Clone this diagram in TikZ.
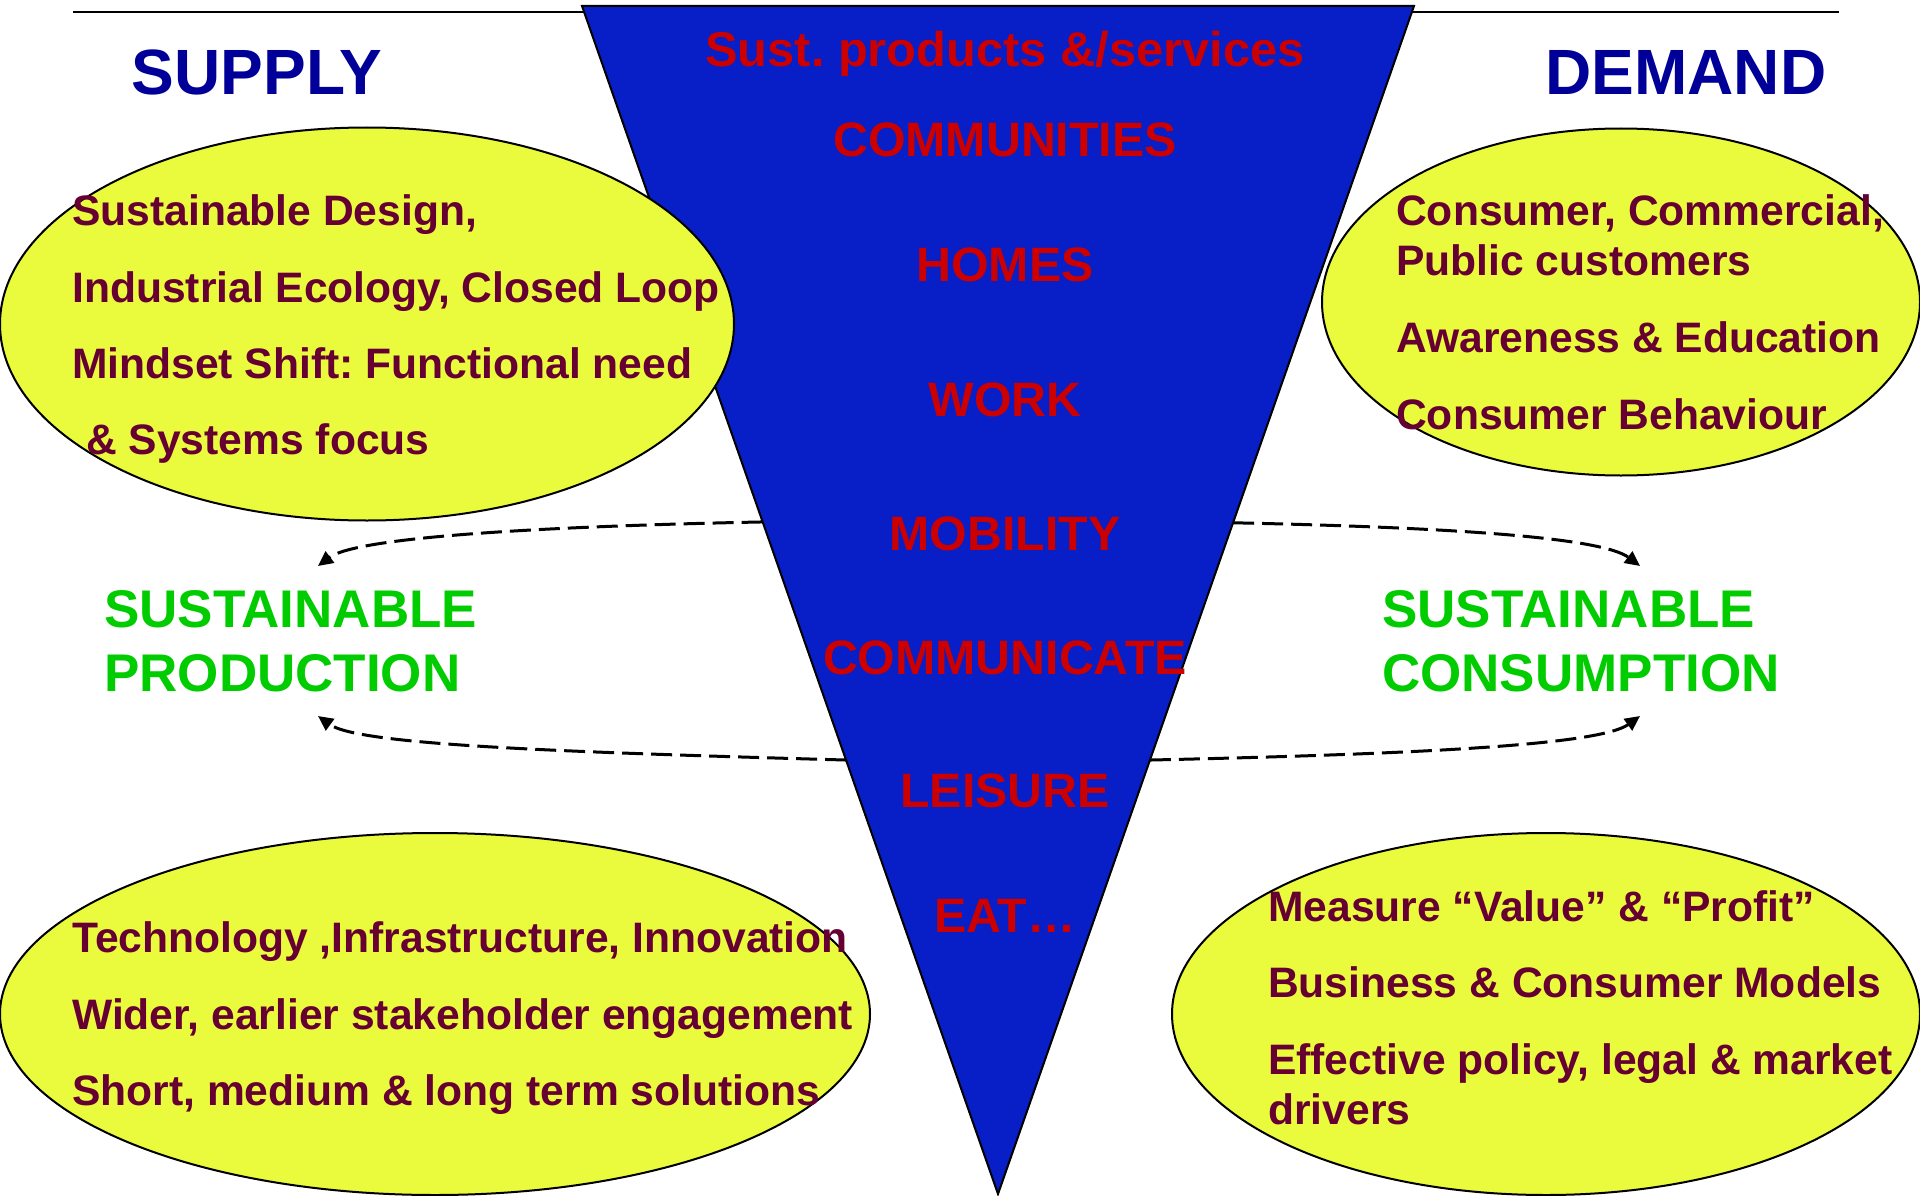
\documentclass[tikz,border=0pt]{standalone}
\usepackage{fontspec}
\setmainfont{Liberation Sans}
\usetikzlibrary{shapes.geometric,arrows.meta,calc}
\definecolor{triblue}{RGB}{8,30,198}
\definecolor{tred}{RGB}{204,0,0}
\definecolor{maroonx}{RGB}{102,0,51}
\definecolor{limey}{RGB}{234,250,60}
\definecolor{navyb}{RGB}{0,0,153}
\definecolor{tgreen}{RGB}{0,204,0}
\frenchspacing
\begin{document}
\begin{tikzpicture}[x=1pt,y=-1pt,
  bubble/.style={ellipse, draw=black, line width=2pt, fill=limey, inner sep=0pt},
  item/.style={anchor=base west, inner sep=0pt, text=maroonx, font=\bfseries\fontsize{42.6}{50}\selectfont},
  cat/.style={anchor=base, inner sep=0pt, text=tred, font=\bfseries\fontsize{48.3}{56}\selectfont},
  head/.style={anchor=base, inner sep=0pt, text=navyb, font=\bfseries\fontsize{64}{70}\selectfont},
  goal/.style={anchor=base west, inner sep=0pt, text=tgreen, font=\bfseries\fontsize{53}{60}\selectfont},
  flow/.style={dash pattern=on 21pt off 8pt, line width=3pt, -{Triangle[length=15pt,width=14pt]}},
]
\useasboundingbox (0,0) rectangle (1920,1196);

% top rule
\coordinate (ruleL) at (73,12);
\coordinate (ruleR) at (1839,12);
\draw[line width=2pt] (ruleL) -- (ruleR);

% triangle corners
\coordinate (tl) at (582,6);
\coordinate (tr) at (1414,6);
\coordinate (tb) at (998,1194);

% connector end points
\coordinate (pl1) at ($(tl)!0.4343!(tb)$);
\coordinate (pl2) at ($(tl)!0.6347!(tb)$);
\coordinate (pr1) at ($(tr)!0.435!(tb)$);
\coordinate (pr2) at ($(tr)!0.6347!(tb)$);
\coordinate (tipL1) at (318,566);
\coordinate (tipL2) at (318,716);
\coordinate (tipR1) at (1640,566);
\coordinate (tipR2) at (1640,716);

\draw[flow] (pl1) .. controls (560,526) and (358,536) .. (tipL1);
\draw[flow] (pl2) .. controls (560,752) and (358,745) .. (tipL2);
\draw[flow] (pr1) .. controls (1430,527) and (1600,536) .. (tipR1);
\draw[flow] (pr2) .. controls (1420,754) and (1600,745) .. (tipR2);

% triangle
\draw[fill=triblue, line width=2pt] (tl) -- (tr) -- (tb) -- cycle;

\node[cat, font=\bfseries\fontsize{48.8}{56}\selectfont] (c0) at (1005,67) {Sust. products \&/services};
\node[cat] (c1) at (1005,157) {COMMUNITIES};
\node[cat] (c2) at (1005,281) {HOMES};
\node[cat] (c3) at (1005,416) {WORK};
\node[cat] (c4) at (1005,550) {MOBILITY};
\node[cat] (c5) at (1005,674) {COMMUNICATE};
\node[cat] (c6) at (1005,807) {LEISURE};
\node[cat] (c7) at (1005,932) {EAT…};

% ellipses
\node[bubble, minimum width=734pt, minimum height=393pt] (e1) at (367,324) {};
\node[bubble, minimum width=598pt, minimum height=347pt] (e2) at (1621,302) {};
\node[bubble, minimum width=870pt, minimum height=362pt] (e3) at (435,1014) {};
\node[bubble, minimum width=748pt, minimum height=362pt] (e4) at (1546,1014) {};

% supply top
\node[item] (s1) at (72,225) {Sustainable Design,};
\node[item] (s2) at (72,302) {Industrial Ecology, Closed Loop};
\node[item] (s3) at (72,378) {Mindset Shift: Functional need};
\node[item] (s4) at (86,454) {\& Systems focus};

% demand top
\node[item] (d1) at (1396,225) {Consumer, Commercial,};
\node[item] (d2) at (1396,275) {Public customers};
\node[item] (d3) at (1396,352) {Awareness \& Education};
\node[item] (d4) at (1396,429) {Consumer Behaviour};

% supply bottom
\node[item] (b1) at (72,952) {Technology ,Infrastructure, Innovation};
\node[item] (b2) at (72,1029) {Wider, earlier stakeholder engagement};
\node[item] (b3) at (72,1105) {Short, medium \& long term solutions};

% demand bottom
\node[item] (m1) at (1268,921) {Measure “Value” \& “Profit”};
\node[item] (m2) at (1268,997) {Business \& Consumer Models};
\node[item] (m3) at (1268,1074) {Effective policy, legal \& market};
\node[item] (m4) at (1268,1124) {drivers};

% headings
\node[head] (supply) at (257,95) {SUPPLY};
\node[head] (demand) at (1686,95) {DEMAND};

% goals
\node[goal] (g1) at (104,627) {SUSTAINABLE};
\node[goal] (g2) at (104,691) {PRODUCTION};
\node[goal] (g3) at (1382,627) {SUSTAINABLE};
\node[goal] (g4) at (1382,691) {CONSUMPTION};
\end{tikzpicture}
\end{document}
